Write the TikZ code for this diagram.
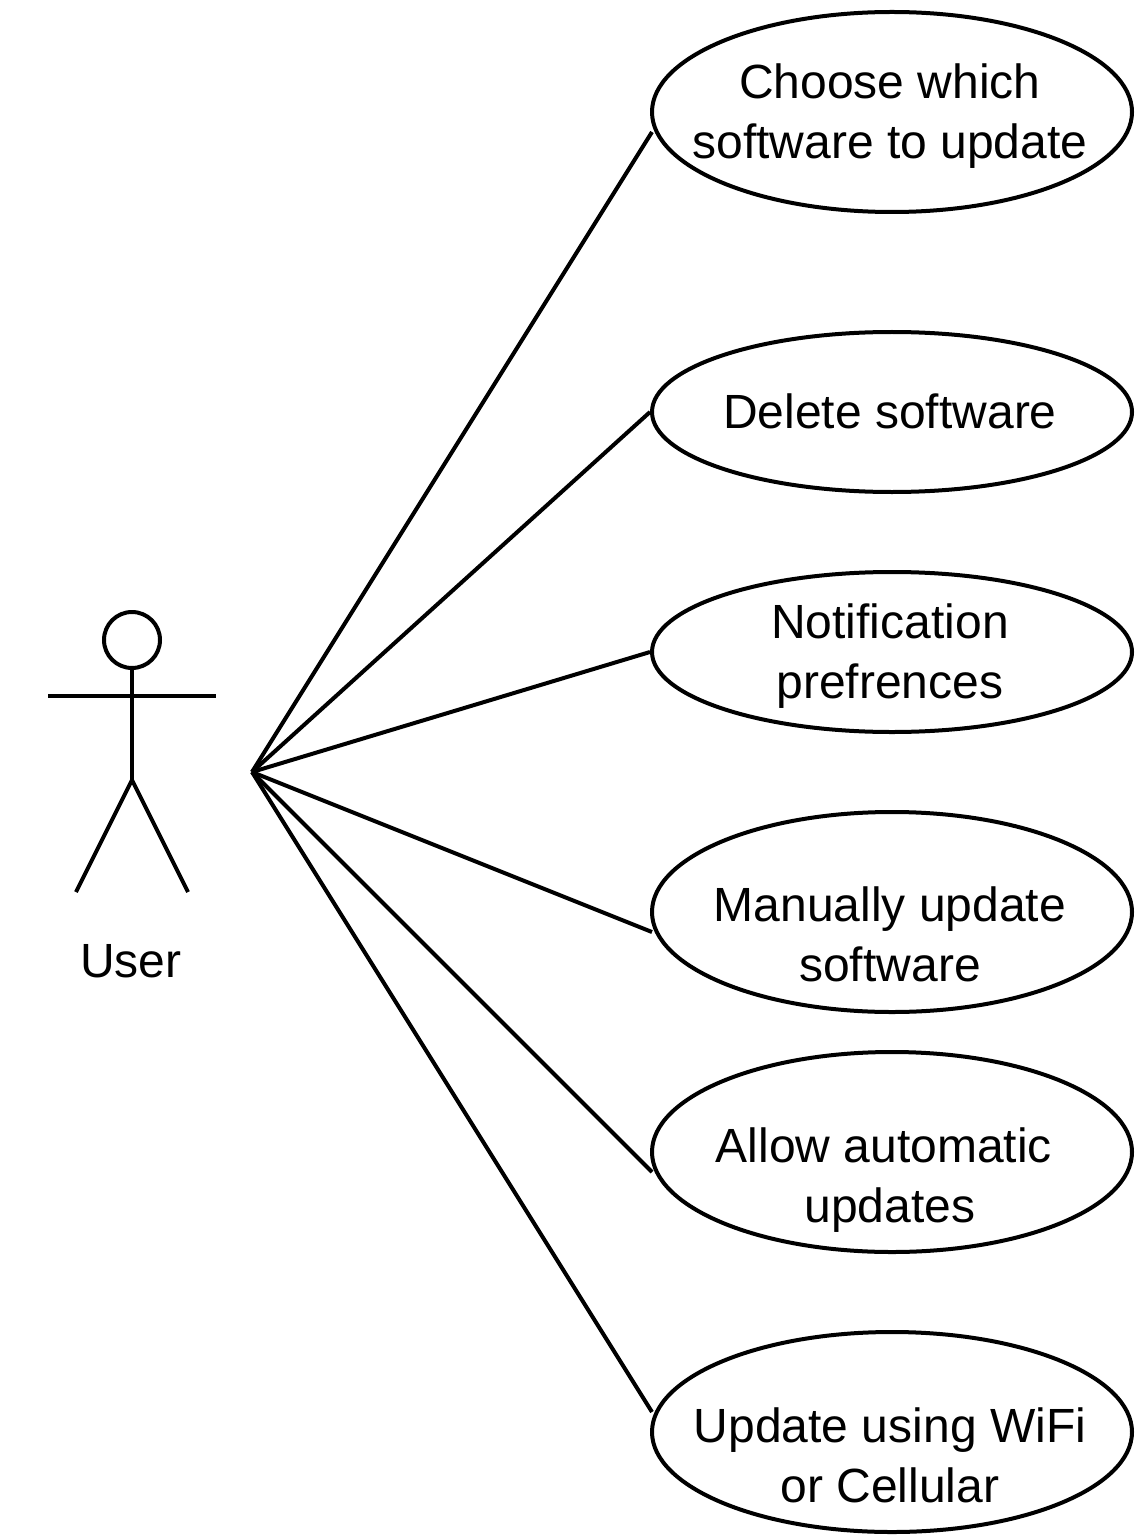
\documentclass[tikz,border=0pt]{standalone}
\usepackage{fontspec}
\setmainfont{Liberation Sans}
\usetikzlibrary{shapes.geometric}
\tikzset{
  x=0.75pt,y=-0.75pt,
  usetext/.style={inner sep=0pt,align=center,xshift=-1.5pt,font=\fontsize{36}{45}\selectfont},
  twolines/.style={usetext,yshift=-3pt},
  oneline/.style={usetext,yshift=0.75pt},
  usecase/.style={draw=black,line width=3pt,ellipse,inner sep=0pt,minimum width=360pt},
  tall/.style={usecase,minimum height=150pt},
  short/.style={usecase,minimum height=120pt},
  limb/.style={draw=black,line width=3pt},
  assoc/.style={draw=black,line width=3pt}
}
\begin{document}
\begin{tikzpicture}
\useasboundingbox (0,0) rectangle (1140,1540);
\coordinate (hub) at (252,772);
\node[tall,label={[twolines]center:{Choose which\\software to update}}] (u1) at (892,112) {};
\node[short,label={[oneline]center:{Delete software}}] (u2) at (892,412) {};
\node[short,label={[twolines]center:{Notification\\prefrences}}] (u3) at (892,652) {};
\node[tall,label={[twolines,yshift=-13.5pt]center:{Manually update\\software}}] (u4) at (892,912) {};
\node[tall,label={[twolines,yshift=-18pt]center:{Allow automatic\kern9pt\\updates}}] (u5) at (892,1152) {};
\node[tall,label={[twolines,yshift=-14.25pt]center:{Update using WiFi\\or Cellular}}] (u6) at (892,1432) {};
\coordinate (e1) at (652,132);
\coordinate (e4) at (652,932);
\coordinate (e5) at (652,1172);
\coordinate (e6) at (652,1412);
\draw[assoc] (hub) -- (e1);
\draw[assoc] (hub) -- (u2.west);
\draw[assoc] (hub) -- (u3.west);
\draw[assoc] (hub) -- (e4);
\draw[assoc] (hub) -- (e5);
\draw[assoc] (hub) -- (e6);
\node[draw=black,line width=3pt,circle,minimum size=42pt,inner sep=0pt] (head) at (132,640) {};
\coordinate (armL) at (48,696);
\coordinate (armR) at (216,696);
\coordinate (hip) at (132,780);
\coordinate (legL) at (76,892);
\coordinate (legR) at (188,892);
\draw[limb] (head.south) -- (hip);
\draw[limb] (armL) -- (armR);
\draw[limb] (legL) -- (hip) -- (legR);
\node[font=\fontsize{36}{45}\selectfont,inner sep=0pt] (user) at (131,961) {User};
\end{tikzpicture}
\end{document}
